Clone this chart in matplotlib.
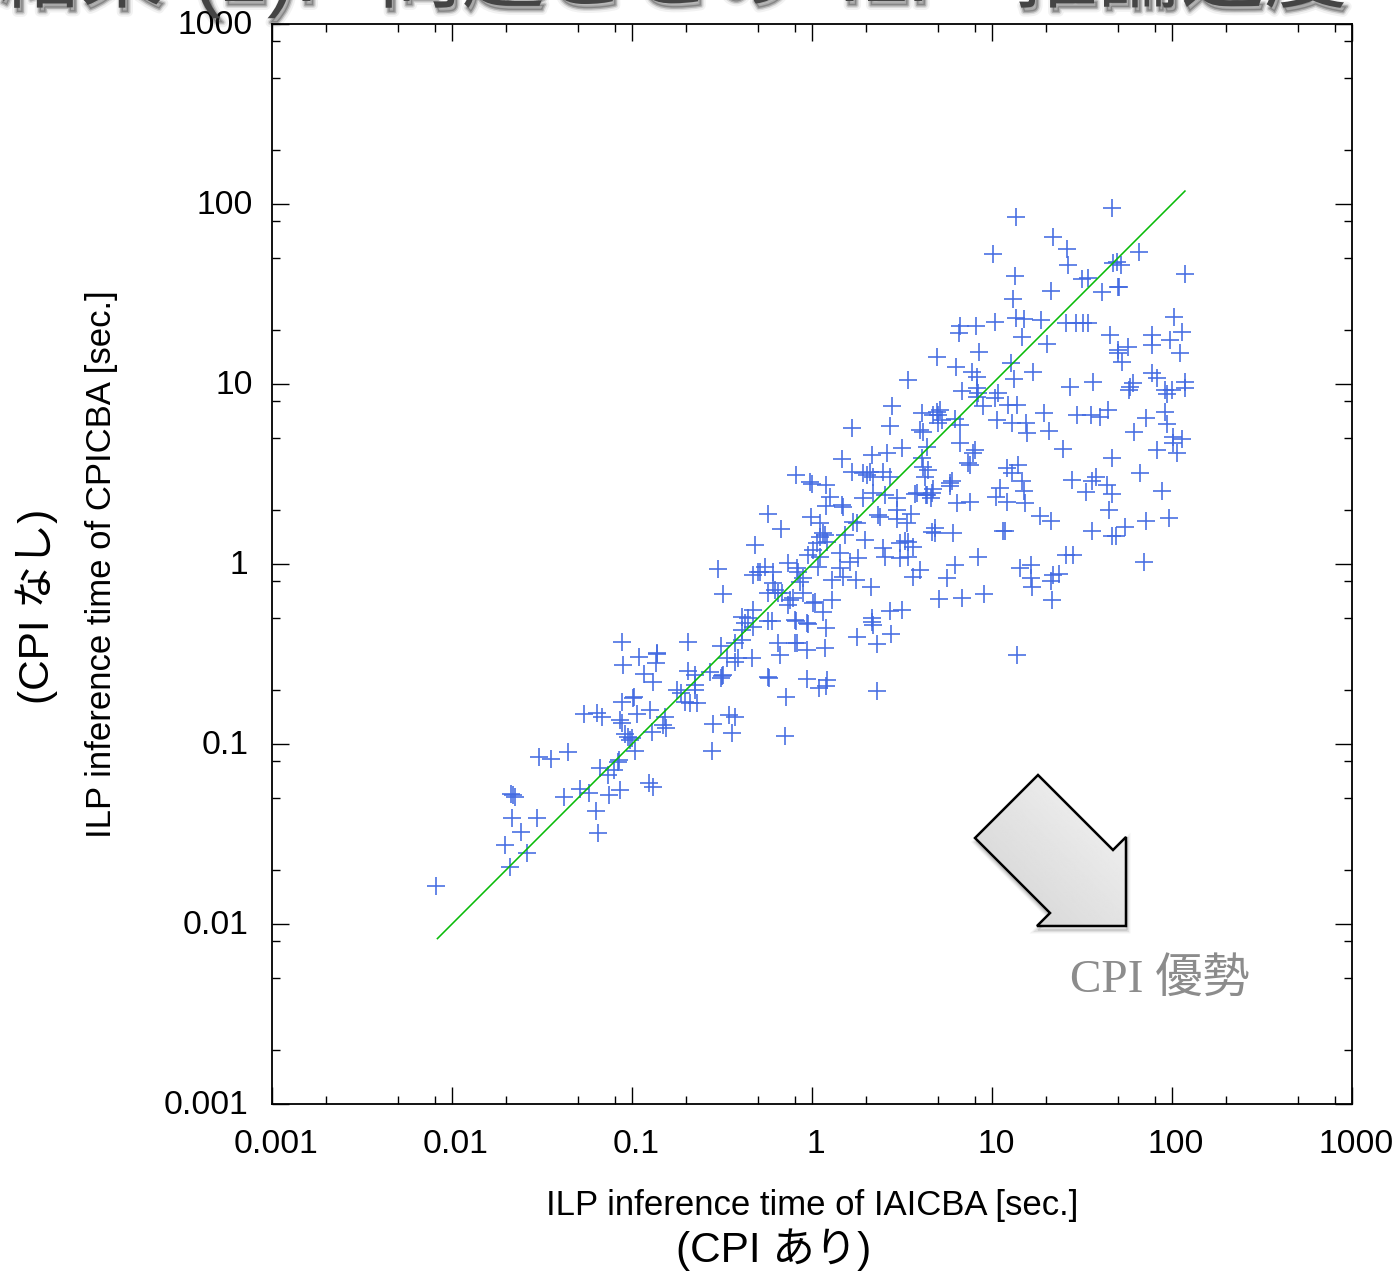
import numpy as np
import matplotlib
matplotlib.use("Agg")
import matplotlib.pyplot as plt
import matplotlib.patheffects as pe
from matplotlib.patches import Polygon
from matplotlib.ticker import FixedLocator, FixedFormatter, LogLocator, NullFormatter
from matplotlib.transforms import ScaledTranslation

SANS = ['Liberation Sans', 'Noto Sans CJK JP']
SERIF = ['Liberation Serif', 'Noto Sans CJK JP']

# inference times, IAICBA (x) against CPICBA (y), seconds
time_iaicba = [
    .0082, .0210, .0261, .0197, .0242, .0215, .0297, .0648, .0631, .0213,
    .0218, .0224, .0419, .0514, .0577, .0746, .0858, .124, .131, .0736,
    .0664, .0794, .0836, .0847, .0304, .0355, .0441, .104, .0977, .0950,
    .100, .0915, .0880, .0858, .0541, .0640, .0681, .107, .126, .0880,
    .101, .103, .129, .152, .149, .154, .278, .282, .359, .346,
    .374, .708, .718, .577, .938, 1.09, 1.20, 2.30, .178, .187,
    .197, .210, .230, .224, .224, .205, .224, .271, .316, .320,
    .312, .0880, .0893, .109, .117, .131, .138, .138, .136, .205,
    .300, .320, .312, .374, .408, .337, .388, .374, .464, .408,
    .441, .470, .470, .408, .425, .570, .600, .648, .664, .825,
    .938, .814, .938, .470, .514, .548, .607, .620, .570, .648,
    .736, .757, .893, .858, .836, .736, 1.01, 3.41, 2.78, 6.31,
    1.67, 2.71, 4.08, 4.95, 5.14, 5.01, 5.28, 3.98, 4.14, 3.16,
    2.61, 2.15, 1.47, 4.36, 4.08, 4.14, 4.41, 4.25, 1.67, 2.02,
    2.10, 1.92, 2.18, 2.48, 2.71, .814, .977, 1.00, 1.20, 1.26,
    1.20, 1.47, 1.49, 1.92, 2.18, 2.54, 2.97, 3.83, 4.36, 4.64,
    5.84, 6.40, .570, .673, .987, 1.11, 1.69, 1.78, 2.32, 2.39,
    2.97, 2.97, 3.37, 3.55, 4.82, 4.64, 4.82, 6.07, 1.15, 1.11,
    1.18, 1.07, 1.21, 1.52, 1.97, 2.48, 2.54, 3.08, 3.41, 3.64,
    3.41, 3.08, 1.01, .950, 1.11, 1.43, 1.80, 1.63, .482, .501,
    .607, .825, 1.08, .893, 1.43, 1.49, 1.29, 1.76, 2.13, 3.98,
    3.64, 6.20, 5.62, 5.07, .681, .785, 1.04, 1.29, 1.15, 2.71,
    3.16, 2.15, 2.18, 2.15, .805, .950, 1.20, 1.78, 2.75, 2.30,
    .805, 1.18, .570, 1.21, 46.4, 13.6, 21.8, 26.1, 26.5, 10.1,
    65.6, 47.0, 49.5, 52.1, 13.4, 118, 31.6, 34.1, 50.1, 50.7,
    21.3, 40.8, 13.1, 13.6, 15.1, 18.7, 10.4, 8.14, 6.64, 6.56,
    25.8, 29.3, 32.0, 34.1, 103, 114, 14.7, 45.3, 77.4, 77.4,
    97.7, 20.2, 57.0, 50.1, 50.1, 111, 52.8, 8.47, 4.95, 12.7,
    16.9, 13.3, 7.74, 8.25, 77.4, 82.5, 36.4, 27.1, 60.7, 58.4,
    57.7, 118, 118, 91.5, 100, 93.8, 6.81, 8.25, 8.36, 8.25,
    8.93, 10.8, 10.4, 12.3, 13.8, 19.5, 29.7, 35.5, 39.8, 44.1,
    71.8, 91.5, 93.8, 4.70, 5.01, 6.20, 6.64, 10.7, 12.9, 15.4,
    15.6, 20.7, 61.7, 101, 114, 101, 6.64, 8.05, 7.85, 24.8,
    82.5, 46.4, 106, 7.36, 7.57, 12.1, 12.9, 14.0, 14.7, 66.4,
    27.8, 37.8, 35.9, 43.6, 46.4, 33.3, 88.0, 44.7, 96.2, 71.8,
    54.8, 35.9, 46.4, 48.8, 70.0, 18.5, 21.3, 15.2, 12.1, 10.5,
    11.1, 15.1, 7.57, 6.00, 5.84, 4.70, 4.57, 4.30, 3.74, 11.5,
    11.8, 3.27, 8.36, 14.3, 16.5, 16.5, 16.7, 25.8, 28.2, 21.3,
    21.8, 23.6, 21.5, 6.81, 9.03, 13.8,
]
time_cpicba = [
    .0163, .0207, .0248, .0275, .0325, .0388, .0388, .0320, .0425, .0528,
    .0521, .0507, .0507, .0562, .0535, .0521, .0555, .0607, .0577, .0673,
    .0736, .0718, .0794, .0814, .0847, .0825, .0903, .0915, .105, .109,
    .108, .114, .131, .136, .147, .149, .141, .147, .154, .171,
    .180, .183, .117, .141, .127, .123, .0915, .129, .115, .145,
    .141, .111, .183, .232, .230, .205, .210, .197, .200, .192,
    .171, .169, .169, .213, .200, .255, .242, .251, .239, .242,
    .232, .369, .275, .304, .245, .221, .320, .316, .282, .369,
    .938, .681, .350, .364, .378, .300, .300, .286, .300, .507,
    .501, .555, .447, .430, .470, .482, .482, .364, .312, .364,
    .333, .482, .470, .870, .903, .962, .783, .718, .690, .690,
    .592, .631, .690, .794, .903, 1.01, .607, 10.5, 7.57, 12.4,
    5.70, 5.84, 6.90, 7.00, 7.18, 6.73, 6.31, 5.55, 5.41, 4.41,
    4.14, 4.03, 3.83, 4.47, 3.88, 3.46, 3.33, 3.04, 3.25, 3.12,
    3.25, 3.20, 3.04, 3.25, 3.04, 3.12, 2.86, 2.78, 2.75, 2.36,
    2.10, 2.13, 2.07, 2.32, 2.48, 2.42, 2.32, 2.48, 2.42, 2.48,
    2.82, 2.18, 1.90, 1.56, 1.83, 1.69, 1.71, 1.69, 1.87, 1.83,
    2.00, 1.78, 1.69, 1.90, 1.58, 1.51, 1.49, 1.49, 1.49, 1.41,
    1.45, 1.31, 1.33, 1.45, 1.36, 1.23, 1.09, 1.31, 1.33, 1.24,
    1.09, 1.08, 1.20, 1.12, 1.09, 1.15, 1.08, 1.03, 1.27, .903,
    .903, .950, .962, .836, .950, .847, .814, .814, .746, .926,
    .847, .987, .836, .640, .690, .648, .617, .631, .541, .548,
    .555, .501, .457, .476, .488, .464, .441, .393, .408, .359,
    .364, .341, .236, .227, 95.0, 84.7, 65.6, 56.2, 45.7, 52.8,
    54.1, 47.0, 47.6, 45.7, 39.8, 40.8, 38.3, 38.8, 34.6, 34.6,
    32.9, 32.5, 29.7, 23.2, 23.0, 22.7, 22.1, 21.0, 21.0, 19.2,
    21.8, 21.8, 21.8, 21.8, 23.6, 19.5, 18.3, 18.7, 18.7, 16.5,
    17.6, 16.7, 16.0, 15.4, 14.9, 14.9, 13.3, 15.1, 14.1, 13.1,
    11.7, 10.7, 11.7, 10.9, 11.5, 10.8, 10.3, 9.62, 10.1, 9.62,
    9.26, 10.2, 9.50, 9.26, 9.26, 8.80, 9.15, 9.50, 8.93, 8.47,
    7.57, 8.93, 8.36, 7.65, 7.65, 6.90, 6.73, 6.73, 6.56, 7.18,
    6.48, 7.00, 6.00, 6.73, 6.07, 6.40, 5.92, 6.31, 6.07, 6.07,
    5.35, 5.48, 5.41, 5.07, 4.95, 4.70, 4.70, 4.30, 4.14, 4.36,
    4.30, 3.88, 4.14, 3.64, 3.55, 3.41, 3.20, 3.55, 2.89, 3.20,
    2.93, 3.04, 2.89, 2.75, 2.45, 2.51, 2.55, 2.00, 1.80, 1.73,
    1.60, 1.52, 1.43, 1.43, 1.03, 1.85, 1.73, 2.18, 2.21, 2.36,
    2.65, 2.55, 2.21, 2.89, 2.71, 2.61, 2.32, 2.42, 2.45, 1.52,
    1.52, 1.34, 1.09, .950, .987, .836, .746, 1.12, 1.12, .805,
    .870, .880, .631, .648, .681, .312,
]
diag_x = [0.0083, 118]
diag_y = [0.0083, 118]

tick_values = [0.001, 0.01, 0.1, 1, 10, 100, 1000]
tick_labels = ['0.001', '0.01', '0.1', '1', '10', '100', '1000']
title_parts = ['結果', '(2):', '問題ごとの', 'ILP', '推論速度']
title_left = [-3, 193, 378, 838, 1014]

W, H = 1400, 1273
fig = plt.figure(figsize=(W / 100, H / 100), dpi=100, facecolor='white')
ax = fig.add_axes([272 / W, 1 - 1104 / H, 1080 / W, 1080 / H])

ax.plot(diag_x, diag_y, color='#08bb08', lw=1.15, zorder=3)
ax.plot(time_iaicba, time_cpicba, ls='none', marker='+', ms=12.4, mew=1.2,
        color='#4169e1', alpha=0.95, zorder=2)

ax.set_xscale('log')
ax.set_yscale('log')
ax.set_xlim(0.001, 1000)
ax.set_ylim(0.001, 1000)

for axis in (ax.xaxis, ax.yaxis):
    axis.set_major_locator(FixedLocator(tick_values))
    axis.set_major_formatter(FixedFormatter(tick_labels))
    axis.set_minor_locator(LogLocator(base=10, subs=(2, 5, 8), numticks=12))
    axis.set_minor_formatter(NullFormatter())
ax.tick_params(which='major', direction='in', length=12, width=1.0, top=True, right=True)
ax.tick_params(which='minor', direction='in', length=6, width=1.0, top=True, right=True)
ax.tick_params(axis='x', which='major', pad=18, labelsize=24.2)
ax.tick_params(axis='y', which='major', pad=14, labelsize=24.2)
for s in ax.spines.values():
    s.set_linewidth(1.3)

# labels in the reference sit a few pixels off their ticks
for lab in ax.get_xticklabels():
    lab.set_family(SANS)
    lab.set_transform(lab.get_transform() + ScaledTranslation(0.04, 0, fig.dpi_scale_trans))
for i, lab in enumerate(ax.get_yticklabels()):
    lab.set_family(SANS)
    dx = -0.04 if i < 4 else 0
    lab.set_transform(lab.get_transform() + ScaledTranslation(dx, 0.02, fig.dpi_scale_trans))

# overlay in pixel coordinates for the slide decoration
ov = fig.add_axes([0, 0, 1, 1], facecolor='none')
ov.set_xlim(0, W)
ov.set_ylim(H, 0)
ov.axis('off')
ov.set_autoscale_on(False)

ov.text(812, 1205, 'ILP inference time of IAICBA [sec.]', family=SANS, fontsize=25,
        ha='center', va='center', color='black')
ov.text(774, 1250, '(CPI あり)', family=SANS, fontsize=30.5, ha='center', va='center', color='black')
ov.text(102, 564, 'ILP inference time of CPICBA [sec.]', family=SANS, fontsize=25,
        rotation=90, ha='center', va='center', color='black')
ov.text(37, 606, '(CPI なし)', family=SANS, fontsize=30.5, rotation=90, ha='center', va='center',
        color='black')
ov.text(1070, 992, 'CPI 優勢', family=SERIF, fontsize=34, ha='left', va='baseline', color='#8c8c8c')

# slide title, only the bottom of it is on the picture
for part, left in zip(title_parts, title_left):
    t = ov.text(left, 1, part, family=SANS, fontsize=60, ha='left', va='baseline',
                color='#444444', clip_on=False)
    t.set_path_effects([
        pe.Stroke(linewidth=7, foreground='#000000', alpha=0.05, offset=(2, -3)),
        pe.Stroke(linewidth=4, foreground='#000000', alpha=0.10, offset=(2, -3)),
        pe.Stroke(linewidth=2, foreground='#000000', alpha=0.20, offset=(2, -3)),
        pe.Normal(),
    ])

# arrow
arrow_pts = np.array([(1038, 775), (975, 838), (1050, 913), (1037, 926),
                      (1126, 926), (1126, 837), (1113, 850)], dtype=float)
for grow, a in ((5, 0.05), (3, 0.08), (1, 0.12)):
    ov.add_patch(Polygon(arrow_pts + [1, 4], closed=True, fc='none', ec='black', lw=grow, alpha=a,
                         joinstyle='miter', zorder=4))
xx, yy = np.meshgrid(np.linspace(0, 1, 160), np.linspace(0, 1, 160))
ramp = 0.80 + 0.14 * (xx + (1 - yy)) / 2 + 0.02
img = ov.imshow(ramp, cmap='gray', vmin=0, vmax=1, extent=(975, 1126, 926, 775), aspect='auto',
                zorder=5, interpolation='bilinear')
edge = Polygon(arrow_pts, closed=True, fc='none', ec='black', lw=1.8, joinstyle='miter', zorder=6)
ov.add_patch(edge)
img.set_clip_path(edge)
ov.set_xlim(0, W)
ov.set_ylim(H, 0)

fig.savefig('out.png', dpi=100, facecolor='white')
